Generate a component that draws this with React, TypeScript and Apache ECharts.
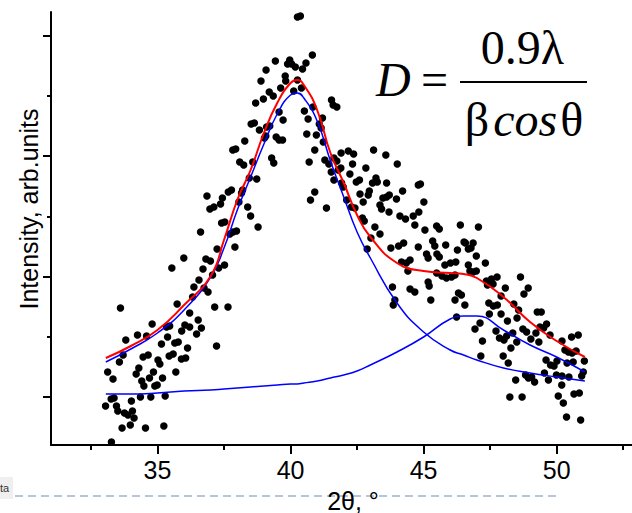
import { useEffect, useRef } from "react";
import * as echarts from "echarts";

// 2θ positions (degrees) at which the fitted curves were read
const fitX = [33.06, 34, 35, 36, 37, 37.5, 38, 38.5, 39, 39.5, 40, 40.25, 40.5, 41, 41.5, 42, 42.5, 43, 44, 45, 46, 46.5, 47, 48, 49, 50, 51.06];
// Intensity (arb. units) of the total fit (red)
const fitTotal = [87, 99, 115, 140, 169, 205, 245, 275, 312, 342, 362, 365, 360, 335, 292, 262, 230, 208, 182, 174, 172, 171, 167, 148, 123, 104, 88];
// First Lorentzian component (blue)
const peak1 = [83, 96, 112, 135, 168, 197, 235, 268, 301, 331, 350, 352, 347, 324, 284, 248, 213, 187, 142, 113, 95, 90, 85, 77, 72, 68, 64];
// Second Lorentzian component (blue)
const peak2 = [51, 51, 52, 54, 55, 56, 57, 58, 59, 60, 61, 61, 62, 64, 67, 70, 74, 80, 93, 108, 126, 129, 129, 115, 100, 88, 73];

// Measured points [2θ, intensity]
const measuredLow: [number, number][] = [
  [33.61, 137], [35.74, 141], [36.32, 148], [36.9, 153], [36.75, 157], [37.15, 138], [34.8, 121], [34.25, 110], [34.59, 109], [33.81, 105],
  [35.46, 119], [35.34, 118], [36.03, 120], [36.21, 118], [36.53, 125], [36.65, 117], [35.91, 114], [36.47, 111], [35.38, 108], [35.15, 101],
  [35.65, 102], [35.78, 103], [37.22, 99], [36.13, 97], [35.59, 91], [35.44, 89], [34.65, 90], [34.46, 88], [35.9, 86], [36.06, 87],
  [33.71, 90], [33.57, 83], [35.02, 85], [35.09, 81], [34.3, 77], [34.2, 71], [34.85, 73], [35.69, 73], [33.13, 73], [33.33, 66],
  [34.7, 67], [35.19, 67], [34.41, 64], [34.49, 59], [34.9, 59], [34.99, 60], [34.36, 48], [34.75, 48], [35.29, 49], [33.26, 46],
  [33.37, 47], [34.02, 44], [33.05, 39], [33.46, 39], [33.51, 34], [33.76, 32], [34.06, 34], [33.89, 30], [34.12, 27], [33.98, 20],
  [33.67, 17], [34.55, 17], [35.24, 19], [33.27, 3], [36.21, 132],
  [36.86, 249], [37.44, 247], [36.97, 236], [37.12, 238], [37.37, 241], [37.41, 222], [36.62, 213], [35.99, 187], [35.54, 177], [36.82, 186],
  [36.99, 184], [37.24, 196], [36.71, 176], [37.3, 177], [37.52, 180], [37.07, 170], [36.56, 165], [36.37, 158], [37.65, 138], [37.66, 253],
  [37.78, 255], [37.53, 223], [37.72, 211],
];
const measuredPeak: [number, number][] = [
  [40.26, 428], [40.37, 429], [39.43, 384], [39.97, 385], [39.89, 381], [40.04, 381], [40.18, 378], [39.08, 375], [39.8, 369], [39.82, 364],
  [38.89, 364], [40.26, 365], [39.63, 357], [39.2, 353], [39.35, 349], [38.98, 346], [38.69, 342], [40.12, 354], [39.57, 333], [39.72, 325],
  [38.52, 321], [38.64, 322], [39.22, 319], [39.1, 318], [38.83, 315], [39.07, 309], [39.02, 307], [39.46, 308], [39.57, 305], [39.7, 305],
  [38.28, 304], [37.83, 295], [37.94, 296], [39.29, 287], [39.37, 282], [38.09, 283], [38.24, 280], [38.58, 283], [38.45, 267], [38.73, 266],
  [38.2, 255], [38.16, 252], [38.06, 243], [38.39, 238], [38.5, 229], [38.78, 218], [37.97, 214], [37.84, 213], [37.91, 198],
];
const measuredShoulder: [number, number][] = [
  [40.82, 390], [40.58, 382], [40.45, 376], [40.41, 357], [41.54, 345], [41.6, 340], [41.74, 338], [40.52, 334], [40.66, 326], [40.84, 338],
  [41.2, 327], [41.08, 321], [41.15, 317], [40.61, 311], [40.97, 310], [41.23, 303], [40.91, 295], [41.9, 292], [42.17, 294], [42.37, 291],
  [43.12, 295], [43.58, 290], [44.01, 281], [40.7, 283], [41.29, 285], [41.44, 281], [41.63, 287], [41.74, 284], [41.53, 273], [41.79, 275],
  [41.89, 277], [41.63, 265], [41.92, 262], [41.98, 258], [42.33, 281], [42.23, 271], [42.83, 277], [42.47, 263], [42.59, 265], [43.21, 267],
  [43.08, 262], [43.26, 263], [43.61, 262], [44.21, 254], [44.8, 260], [44.88, 261], [42.61, 251], [42.96, 254], [42.92, 250], [42.73, 243],
  [42.11, 245], [42.29, 238], [42.42, 237], [43.47, 247], [43.61, 248], [43.71, 250], [43.36, 240], [43.42, 236], [43.7, 233], [43.98, 246],
  [45.01, 243], [40.91, 253], [40.75, 245], [41.35, 237], [42.7, 227], [42.77, 224], [44.11, 229], [44.32, 226], [44.61, 229], [44.82, 233],
  [43.17, 218], [43.36, 211], [44.67, 220], [45.49, 219], [45.59, 216], [45.05, 215], [46.38, 220], [43.02, 207], [42.88, 196], [43.77, 197],
  [44.06, 199], [44.25, 202], [44.8, 198], [45.34, 204], [45.42, 199], [45.83, 200], [46.52, 203], [46.27, 195], [45.11, 191], [45.17, 187],
  [45.5, 191], [45.59, 188], [44.49, 185], [44.35, 182], [44.17, 183], [45.8, 180], [46.01, 182], [46.21, 183], [44.41, 174], [45.49, 172],
  [45.69, 169], [45.86, 167], [46.05, 168], [46.18, 170], [43.83, 158], [44.49, 156], [44.67, 153], [45.17, 163], [45.21, 159], [46.31, 152],
  [46.42, 150], [46.18, 145], [45.27, 145], [43.86, 140], [43.92, 145], [46.24, 128],
];
const measuredTail: [number, number][] = [
  [47.06, 218], [46.57, 202], [46.86, 202], [46.68, 196], [46.78, 197], [46.98, 189], [47.32, 182], [46.68, 180], [46.74, 174], [46.86, 173],
  [46.98, 174], [47.36, 164], [47.55, 166], [47.76, 168], [47.4, 160], [47.61, 161], [48.07, 157], [48.64, 168], [48.93, 157], [48.77, 151],
  [47.91, 149], [46.55, 140], [47.45, 142], [47.62, 139], [47.77, 140], [48.39, 141], [48.57, 135], [47.47, 131], [47.91, 131], [48.15, 124],
  [48.51, 127], [49.27, 133], [49.42, 133], [49.62, 121], [49.37, 118], [49.51, 117], [48.73, 116], [48.87, 113], [47.12, 122], [46.93, 116],
  [47.72, 114], [47.85, 107], [48.02, 105], [48.12, 109], [48.35, 112], [47.21, 104], [48.28, 97], [48.5, 103], [49.03, 106], [49.22, 112],
  [49.33, 103], [49.75, 110], [50.2, 104], [50.56, 108], [50.81, 110], [50.31, 95], [50.44, 93], [50.58, 92], [50.73, 94], [50.62, 83],
  [51.04, 84], [49.6, 85], [49.77, 80], [49.9, 79], [50.01, 84], [50.39, 82], [51.0, 73], [50.94, 69], [47.15, 89], [47.99, 89],
  [48.18, 82], [48.46, 65], [48.83, 70], [48.94, 67], [49.06, 68], [49.17, 63], [49.54, 72], [49.69, 65], [49.99, 70], [50.2, 69],
  [50.19, 60], [50.46, 68], [48.24, 48], [48.7, 48], [50.06, 49], [50.25, 42], [50.65, 51], [50.85, 52], [50.37, 28], [50.9, 25],
];

const xMajor = [35, 40, 45, 50];
const xMinor = [32.5, 37.5, 42.5, 47.5, 52.5];
const yMajor = [48, 168.5, 289, 409.5];
const yMinor = [108.25, 228.75, 349.25];

const xTitle = "2θ, °";
const yTitle = "Intensity, arb.units";

export default function App() {
  const ref = useRef<HTMLDivElement>(null);
  useEffect(() => {
    if (!ref.current) return;
    const chart = echarts.init(ref.current, null, { renderer: "svg" });
    const sans = "'Liberation Sans', Arial, sans-serif";
    const serif = "'Liberation Serif', 'Times New Roman', serif";
    const measured = [...measuredLow, ...measuredPeak, ...measuredShoulder, ...measuredTail];
    const axisCommon = {
      type: "value" as const,
      splitLine: { show: false },
    };
    chart.setOption({
      animation: false,
      grid: { left: 51, right: 0, top: 12, bottom: 68, outerBoundsMode: "none" },
      xAxis: [
        {
          ...axisCommon,
          min: 31,
          max: 52.83,
          position: "bottom",
          axisLine: { show: true, lineStyle: { color: "#000", width: 2 } },
          axisTick: { show: true, length: 9, customValues: xMajor, lineStyle: { color: "#000", width: 2 } },
          axisLabel: { show: true, customValues: xMajor, fontSize: 25, fontFamily: sans, color: "#000", margin: 12 },
        },
        {
          ...axisCommon,
          min: 31,
          max: 52.83,
          position: "bottom",
          axisLine: { show: false },
          axisTick: { show: true, length: 5, customValues: xMinor, lineStyle: { color: "#000", width: 2 } },
          axisLabel: { show: false },
        },
      ],
      yAxis: [
        {
          ...axisCommon,
          min: 0,
          max: 433,
          position: "left",
          axisLine: { show: true, lineStyle: { color: "#000", width: 2 } },
          axisTick: { show: true, length: 8, customValues: yMajor, lineStyle: { color: "#000", width: 2 } },
          axisLabel: { show: false },
        },
        {
          ...axisCommon,
          min: 0,
          max: 433,
          position: "left",
          axisLine: { show: false },
          axisTick: { show: true, length: 4, customValues: yMinor, lineStyle: { color: "#000", width: 2 } },
          axisLabel: { show: false },
        },
      ],
      series: [
        {
          type: "scatter",
          data: measured,
          symbol: "circle",
          symbolSize: 7.5,
          itemStyle: { color: "#000", opacity: 1 },
          z: 2,
        },
        {
          type: "line",
          data: fitX.map((x, i) => [x, peak1[i]]),
          smooth: true,
          symbol: "none",
          lineStyle: { color: "#0000ff", width: 1.5 },
          z: 3,
        },
        {
          type: "line",
          data: fitX.map((x, i) => [x, peak2[i]]),
          smooth: true,
          symbol: "none",
          lineStyle: { color: "#0000ff", width: 1.5 },
          z: 3,
        },
        {
          type: "line",
          data: fitX.map((x, i) => [x, fitTotal[i]]),
          smooth: true,
          symbol: "none",
          lineStyle: { color: "#ff0000", width: 2 },
          z: 4,
        },
      ],
      graphic: [
        { type: "rect", shape: { x: 0, y: 477, width: 13, height: 22 }, style: { fill: "#efefef" }, z: 1 },
        { type: "text", x: 0, y: 488, style: { text: "ta", font: "11px " + sans, fill: "#333", textVerticalAlign: "middle" }, z: 2 },
        {
          type: "line",
          shape: { x1: 15, y1: 496, x2: 556, y2: 496 },
          style: { stroke: "#9db3cf", lineWidth: 1.6, lineDash: [8, 5] },
          z: 1,
        },
        {
          type: "text",
          x: 353,
          y: 488,
          style: { text: xTitle, font: "25px " + sans, fill: "#000", textAlign: "center", textVerticalAlign: "top" },
          z: 5,
        },
        {
          type: "text",
          x: 29,
          y: 209,
          rotation: Math.PI / 2,
          style: { text: yTitle, font: "25px " + sans, fill: "#000", textAlign: "center", textVerticalAlign: "middle" },
          z: 5,
        },
        {
          type: "text",
          x: 376,
          y: 79,
          style: { text: "D", font: "italic 48px " + serif, fill: "#000", textAlign: "left", textVerticalAlign: "middle" },
          z: 5,
        },
        {
          type: "text",
          x: 421,
          y: 79,
          style: { text: "=", font: "48px " + serif, fill: "#000", textAlign: "left", textVerticalAlign: "middle" },
          z: 5,
        },
        {
          type: "text",
          x: 522.5,
          y: 47,
          style: { text: "0.9λ", font: "48px " + serif, fill: "#000", textAlign: "center", textVerticalAlign: "middle" },
          z: 5,
        },
        { type: "rect", shape: { x: 460, y: 81, width: 127, height: 2 }, style: { fill: "#000" }, z: 5 },
        {
          type: "text",
          x: 524,
          y: 119,
          style: {
            text: "{b|β}{i|cos}{b|θ}",
            textAlign: "center",
            textVerticalAlign: "middle",
            fill: "#000",
            rich: {
              b: { font: "48px " + serif, fill: "#000" },
              i: { font: "italic 48px " + serif, fill: "#000", padding: [0, 3, 0, 4] },
            },
          },
          z: 5,
        },
      ],
    });
    return () => chart.dispose();
  }, []);
  return <div ref={ref} style={{ position: "absolute", left: 0, top: 0, width: 632, height: 513 }} />;
}
